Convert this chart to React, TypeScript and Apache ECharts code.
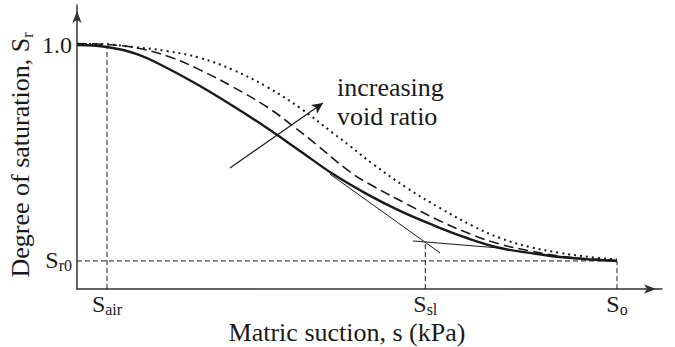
import React, { useEffect, useRef } from 'react';
import * as echarts from 'echarts';

// Axis extents (arbitrary suction units on x, degree of saturation on y)
const X_MAX = 117;
const Y_MAX = 1.164;

// Characteristic points
const S_AIR = 6;
const S_SL = 69.66;
const S_O = 108;
const SR_ONE = 1.0;
const SR0 = 0.115;

// Tick labels
const X_TICKS = [S_AIR, S_SL, S_O];
const X_TICK_LABELS = ['{m|S}{s|air}', '{m|S}{s|sl}', '{m|S}{s|o}'];
const Y_TICKS = [SR0, SR_ONE];
const Y_TICK_LABELS = ['{m|S}{s|r0}', '{m|1.0}'];

// Curve 1 (solid, lowest void ratio)
const solidX = [0, 6, 12, 18, 24.6, 31.2, 38, 44.6, 51.2, 58, 64.6, 71.2, 78, 84.6, 90.6, 96.6, 102.6, 108];
const solidY = [1.0, 0.992, 0.963, 0.906, 0.832, 0.75, 0.66, 0.566, 0.471, 0.389, 0.32, 0.262, 0.209, 0.168, 0.148, 0.131, 0.121, 0.115];

// Curve 2 (dashed)
const dashedX = [0, 6, 12, 18.6, 24.6, 31.2, 38, 43.2, 48, 54.6, 59.2, 66, 72.6, 79.2, 84.6, 90.6, 96.6, 102.6, 108];
const dashedY = [1.006, 1.002, 0.988, 0.951, 0.898, 0.828, 0.746, 0.668, 0.59, 0.48, 0.422, 0.348, 0.279, 0.221, 0.184, 0.156, 0.135, 0.123, 0.117];

// Curve 3 (dotted, highest void ratio)
const dottedX = [0, 4.6, 11.2, 18, 24.6, 31.2, 38, 44.6, 51.2, 54.6, 59.2, 66, 72.6, 79.2, 84.6, 90.6, 96.6, 102.6, 108];
const dottedY = [1.004, 1.004, 0.992, 0.975, 0.947, 0.898, 0.828, 0.742, 0.639, 0.586, 0.512, 0.414, 0.332, 0.258, 0.209, 0.172, 0.148, 0.131, 0.121];

// Tangent construction lines
const steepTangentX = [50.6, 72.6];
const steepTangentY = [0.471, 0.148];
const flatTangentX = [67.2, 85.6];
const flatTangentY = [0.197, 0.166];
const SL_MEET_Y = 0.193;
const AIR_MEET_Y = 0.992;

// "increasing void ratio" arrow
const ARROW_START = [30.6, 0.496];
const ARROW_END = [49.2, 0.762];

const FONT = 'Liberation Serif';
const INK = '#1a1a1a';

const zip = (xs: number[], ys: number[]) => xs.map((x, i) => [x, ys[i]]);

export default function App() {
  const ref = useRef<HTMLDivElement>(null);

  useEffect(() => {
    if (!ref.current) return;
    const chart = echarts.init(ref.current, undefined, { renderer: 'svg' });

    const guide = (data: number[][]) => ({
      type: 'line',
      data,
      symbol: 'none',
      silent: true,
      lineStyle: { color: INK, width: 1, type: [5, 3] },
      z: 1,
    });

    const labelRich = {
      m: { fontSize: 24, fontFamily: FONT, color: INK, lineHeight: 25, verticalAlign: 'top' },
      s: { fontSize: 16, fontFamily: FONT, color: INK, lineHeight: 16, verticalAlign: 'bottom', padding: [7, 0, 0, 0] },
    };

    chart.setOption({
      animation: false,
      textStyle: { fontFamily: FONT },
      grid: { left: 77, right: 13, top: 5, bottom: 58, containLabel: false },
      xAxis: {
        type: 'value',
        min: 0,
        max: X_MAX,
        splitLine: { show: false },
        axisTick: { show: false },
        axisLine: {
          show: true,
          onZero: false,
          symbol: ['none', 'arrow'],
          symbolSize: [7, 12],
          symbolOffset: [0, -6],
          lineStyle: { color: '#333', width: 1.5 },
        },
        axisLabel: {
          customValues: X_TICKS,
          margin: 3,
          fontFamily: FONT,
          formatter: (v: number) => {
            const i = X_TICKS.findIndex((t) => Math.abs(t - v) < 1e-6);
            return i >= 0 ? X_TICK_LABELS[i] : '';
          },
          rich: labelRich,
        },
      },
      yAxis: {
        type: 'value',
        min: 0,
        max: Y_MAX,
        splitLine: { show: false },
        axisTick: { show: false },
        axisLine: {
          show: true,
          onZero: false,
          symbol: ['none', 'arrow'],
          symbolSize: [7, 12],
          symbolOffset: [0, -6],
          lineStyle: { color: '#333', width: 1.5 },
        },
        axisLabel: {
          customValues: Y_TICKS,
          margin: 5,
          fontFamily: FONT,
          formatter: (v: number) => {
            const i = Y_TICKS.findIndex((t) => Math.abs(t - v) < 1e-6);
            return i >= 0 ? Y_TICK_LABELS[i] : '';
          },
          rich: labelRich,
        },
      },
      graphic: [
        {
          type: 'text',
          x: 21,
          y: 155,
          rotation: Math.PI / 2,
          silent: true,
          style: {
            text: '{m|Degree of saturation, S}{s|r}',
            align: 'center',
            verticalAlign: 'middle',
            fill: INK,
            fontFamily: FONT,
            rich: {
              m: { fontSize: 26, fontFamily: FONT, fill: INK, lineHeight: 28, verticalAlign: 'top' },
              s: { fontSize: 16, fontFamily: FONT, fill: INK, lineHeight: 16, verticalAlign: 'bottom', padding: [13, 0, 0, 0] },
            },
          },
        },
        {
          type: 'text',
          x: 347,
          y: 332,
          silent: true,
          style: {
            text: 'Matric suction, s (kPa)',
            fontSize: 26,
            fontFamily: FONT,
            fill: INK,
            align: 'center',
            verticalAlign: 'middle',
          },
        },
        {
          type: 'text',
          x: 337,
          y: 73,
          silent: true,
          style: {
            text: 'increasing\nvoid ratio',
            fontSize: 26,
            fontFamily: FONT,
            lineHeight: 29,
            fill: INK,
            align: 'left',
            verticalAlign: 'top',
          },
        },
      ],
      series: [
        guide([[S_AIR, 0], [S_AIR, AIR_MEET_Y]]),
        guide([[0, SR0], [S_O, SR0]]),
        guide([[S_SL, 0], [S_SL, SL_MEET_Y]]),
        guide([[S_O, 0], [S_O, SR0]]),
        {
          type: 'line',
          data: zip(steepTangentX, steepTangentY),
          symbol: 'none',
          silent: true,
          lineStyle: { color: INK, width: 1 },
          markLine: {
            silent: true,
            symbol: ['none', 'arrow'],
            symbolSize: [8, 11],
            label: { show: false },
            lineStyle: { color: INK, width: 1.2, type: 'solid' },
            data: [[{ coord: ARROW_START }, { coord: ARROW_END }]],
          },
        },
        {
          type: 'line',
          data: zip(flatTangentX, flatTangentY),
          symbol: 'none',
          silent: true,
          lineStyle: { color: INK, width: 1 },
        },
        {
          type: 'line',
          data: zip(dottedX, dottedY),
          symbol: 'none',
          smooth: 0.4,
          lineStyle: { color: INK, width: 2, type: [2, 4] },
          z: 3,
        },
        {
          type: 'line',
          data: zip(dashedX, dashedY),
          symbol: 'none',
          smooth: 0.4,
          lineStyle: { color: INK, width: 1.6, type: [10, 5] },
          z: 3,
        },
        {
          type: 'line',
          data: zip(solidX, solidY),
          symbol: 'none',
          smooth: 0.4,
          lineStyle: { color: INK, width: 2.4 },
          z: 4,
        },
      ],
    });

    return () => chart.dispose();
  }, []);

  return (
    <div
      ref={ref}
      style={{ position: 'fixed', left: 0, top: 0, width: 675, height: 347, background: '#fff' }}
    />
  );
}
